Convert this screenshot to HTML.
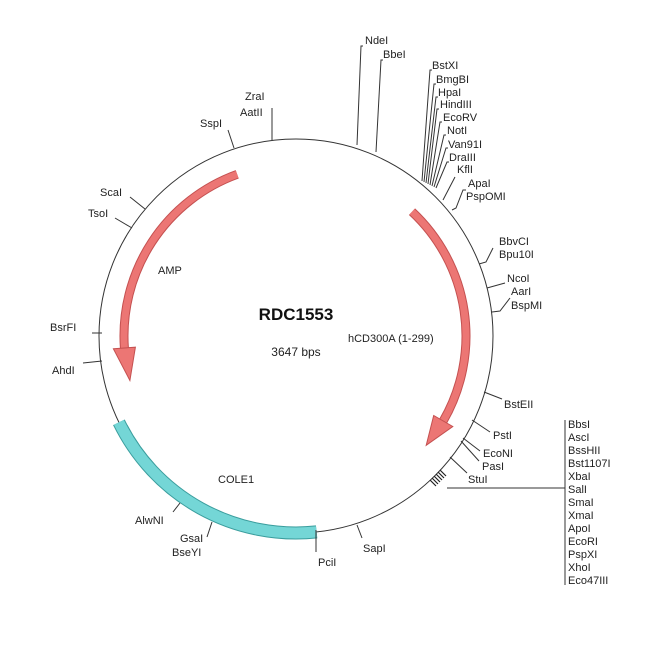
<!DOCTYPE html>
<html><head><meta charset="utf-8"><style>
html,body{margin:0;padding:0;background:#fff;}
svg text{font-family:"Liberation Sans",Arial,sans-serif;font-size:11px;fill:#222;}
</style></head><body>
<svg width="650" height="650" viewBox="0 0 650 650" xmlns="http://www.w3.org/2000/svg">
<rect width="650" height="650" fill="#fff"/>
<circle cx="296" cy="336" r="197" fill="none" stroke="#333" stroke-width="1"/>

<!-- COLE1 band -->
<path d="M118.9,422.3 A197,197 0 0 0 316.6,531.9" fill="none" stroke="#3a9d9d" stroke-width="13"/>
<path d="M118.9,422.3 A197,197 0 0 0 316.6,531.9" fill="none" stroke="#74d6d6" stroke-width="11"/>

<!-- AMP arrow -->
<path d="M237.2,174.3 A172,172 0 0 0 124.4,348.0" fill="none" stroke="#c45050" stroke-width="9"/>
<path d="M237.2,174.3 A172,172 0 0 0 124.4,348.0" fill="none" stroke="#ec7674" stroke-width="7"/>
<polygon points="113.4,348.8 135.4,347.2 129.9,380.5" fill="#ec7674" stroke="#c45050" stroke-width="1"/>

<!-- hCD300A arrow -->
<path d="M412,211.7 A170,170 0 0 1 443.2,421" fill="none" stroke="#c45050" stroke-width="9"/>
<path d="M412,211.7 A170,170 0 0 1 443.2,421" fill="none" stroke="#ec7674" stroke-width="7"/>
<polygon points="452.8,426.5 433.7,415.5 426.2,445.3" fill="#ec7674" stroke="#c45050" stroke-width="1"/>

<g stroke="#333" stroke-width="1" fill="none">
<!-- top -->
<polyline points="357,145 361,46 363,46"/>
<polyline points="376,152 381,60 383,60"/>
<polyline points="228,130 234,148"/>
<polyline points="272,108 272,140"/>
<!-- cluster -->
<polyline points="422,181 430,70 432,70"/>
<polyline points="424,182 434,84 436,84"/>
<polyline points="426,183 436,97 438,97"/>
<polyline points="428,184 437,109 439,109"/>
<polyline points="430,185 440,122 442,122"/>
<polyline points="432,186 444,135 446,135"/>
<polyline points="434,187 446,148 448,148"/>
<polyline points="436,188 447,162 449,162"/>
<polyline points="443,200 455,177"/>
<polyline points="452,210 456,208 463,190 466,190"/>
<!-- right -->
<polyline points="479,264 486,262 493,248"/>
<polyline points="487,288 505,283"/>
<polyline points="492,312 500,311 510,298"/>
<polyline points="484,392 502,399"/>
<polyline points="472,420 490,432"/>
<polyline points="463,438 480,451"/>
<polyline points="461,441 479,461"/>
<polyline points="450,457 467,473"/>
<polyline points="447,488 565,488"/>
<polyline points="565,420 565,585"/>
<!-- left -->
<polyline points="130,197 145,209"/>
<polyline points="115,218 132,228"/>
<polyline points="92,333 102,333"/>
<polyline points="83,363 102,361"/>
<polyline points="173,512 180,503"/>
<polyline points="207,537 212,522"/>
<polyline points="316,530 316,552"/>
<polyline points="357,525 362,538"/>
</g>
<!-- black tick cluster -->
<g stroke="#222" stroke-width="1.2">
<line x1="430" y1="480" x2="436" y2="486"/>
<line x1="432" y1="478" x2="438" y2="484"/>
<line x1="434" y1="476" x2="440" y2="482"/>
<line x1="436" y1="474" x2="442" y2="480"/>
<line x1="438" y1="472" x2="444" y2="478"/>
<line x1="440" y1="470" x2="446" y2="476"/>
</g>

<!-- labels -->
<text x="365" y="44">NdeI</text>
<text x="383" y="58">BbeI</text>
<text x="432" y="69">BstXI</text>
<text x="436" y="83">BmgBI</text>
<text x="438" y="96">HpaI</text>
<text x="440" y="108">HindIII</text>
<text x="443" y="121">EcoRV</text>
<text x="447" y="134">NotI</text>
<text x="448" y="148">Van91I</text>
<text x="449" y="161">DraIII</text>
<text x="457" y="173">KflI</text>
<text x="468" y="187">ApaI</text>
<text x="466" y="200">PspOMI</text>
<text x="499" y="245">BbvCI</text>
<text x="499" y="258">Bpu10I</text>
<text x="507" y="282">NcoI</text>
<text x="511" y="295">AarI</text>
<text x="511" y="309">BspMI</text>
<text x="504" y="408">BstEII</text>
<text x="493" y="439">PstI</text>
<text x="483" y="457">EcoNI</text>
<text x="482" y="470">PasI</text>
<text x="468" y="483">StuI</text>
<text x="568" y="428">BbsI</text>
<text x="568" y="441">AscI</text>
<text x="568" y="454">BssHII</text>
<text x="568" y="467">Bst1107I</text>
<text x="568" y="480">XbaI</text>
<text x="568" y="493">SalI</text>
<text x="568" y="506">SmaI</text>
<text x="568" y="519">XmaI</text>
<text x="568" y="532">ApoI</text>
<text x="568" y="545">EcoRI</text>
<text x="568" y="558">PspXI</text>
<text x="568" y="571">XhoI</text>
<text x="568" y="584">Eco47III</text>
<text x="245" y="100">ZraI</text>
<text x="240" y="116">AatII</text>
<text x="200" y="127">SspI</text>
<text x="100" y="196">ScaI</text>
<text x="88" y="217">TsoI</text>
<text x="50" y="331">BsrFI</text>
<text x="52" y="374">AhdI</text>
<text x="135" y="524">AlwNI</text>
<text x="180" y="542">GsaI</text>
<text x="172" y="556">BseYI</text>
<text x="318" y="566">PciI</text>
<text x="363" y="552">SapI</text>

<text x="296" y="320" text-anchor="middle" style="font-size:17px;font-weight:bold;fill:#111">RDC1553</text>
<text x="296" y="356" text-anchor="middle" style="font-size:12px">3647 bps</text>
<text x="158" y="274" style="font-size:11px">AMP</text>
<text x="348" y="342" style="font-size:11px">hCD300A (1-299)</text>
<text x="218" y="483" style="font-size:11px">COLE1</text>
</svg>
</body></html>
